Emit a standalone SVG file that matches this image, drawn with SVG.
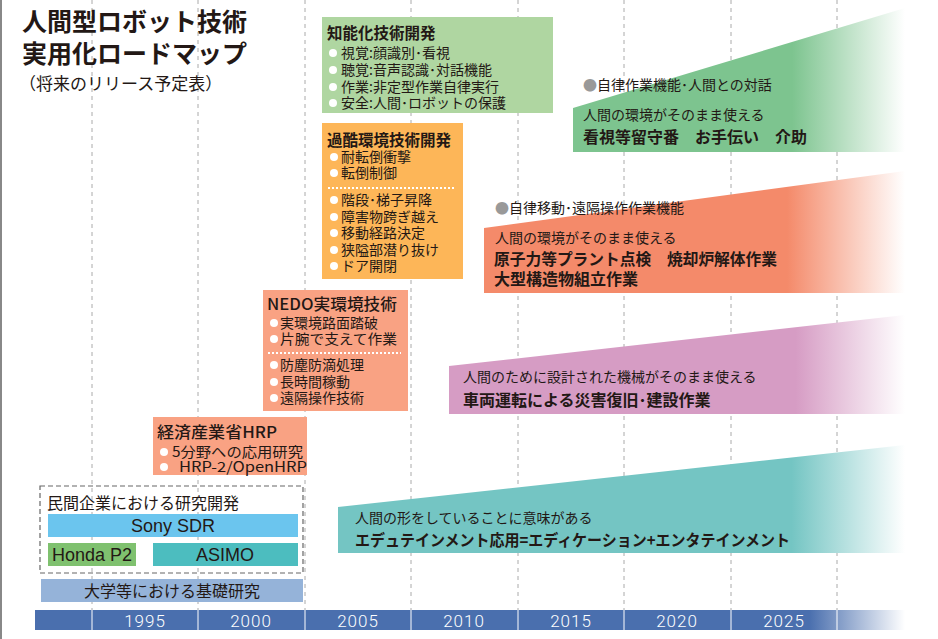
<svg xmlns="http://www.w3.org/2000/svg" width="938" height="639" viewBox="0 0 938 639">
<style>
.t{font-family:"Noto Sans CJK JP","Noto Sans",sans-serif;fill:#231815}
.ttl{font-size:25px;font-weight:bold}
.sub{font-size:17px}
.h{font-size:15.5px;font-weight:bold}
.hm{font-size:15.5px;font-weight:500}
.i{font-size:14px}
.b{font-size:16px;font-weight:bold}
.n{font-size:14px}
.s{font-size:14px}
.lab{font-family:"Liberation Sans","Noto Sans",sans-serif;font-size:18px;fill:#231815}
.yr{font-family:Roboto,"Liberation Sans",sans-serif;font-weight:300;font-size:17px;fill:#fff;letter-spacing:1px}
.grid{stroke:#aaa;stroke-width:1;stroke-dasharray:4 4}
.dot{stroke:#fff;stroke-width:2;stroke-dasharray:2 2}
.gb{fill:#999}
</style>
<defs>
<linearGradient id="gGreen" gradientUnits="userSpaceOnUse" x1="573" y1="0" x2="905" y2="0">
<stop offset="0" stop-color="#7DC48F"/><stop offset="0.66" stop-color="#7DC48F"/><stop offset="1" stop-color="#fff"/>
</linearGradient>
<linearGradient id="gOrange" gradientUnits="userSpaceOnUse" x1="484" y1="0" x2="905" y2="0">
<stop offset="0" stop-color="#F48A6A"/><stop offset="0.72" stop-color="#F48A6A"/><stop offset="1" stop-color="#fff"/>
</linearGradient>
<linearGradient id="gPink" gradientUnits="userSpaceOnUse" x1="449" y1="0" x2="905" y2="0">
<stop offset="0" stop-color="#D69CC4"/><stop offset="0.76" stop-color="#D69CC4"/><stop offset="1" stop-color="#fff"/>
</linearGradient>
<linearGradient id="gTeal" gradientUnits="userSpaceOnUse" x1="338" y1="0" x2="905" y2="0">
<stop offset="0" stop-color="#74C5C3"/><stop offset="0.8" stop-color="#74C5C3"/><stop offset="1" stop-color="#fff"/>
</linearGradient>
<linearGradient id="gBar" gradientUnits="userSpaceOnUse" x1="35" y1="0" x2="905" y2="0">
<stop offset="0" stop-color="#4A6FAE"/><stop offset="0.89" stop-color="#4A6FAE"/><stop offset="1" stop-color="#fff"/>
</linearGradient>
</defs>
<rect width="938" height="639" fill="#fff"/>
<line x1="1" y1="0" x2="1" y2="639" stroke="#888" stroke-width="2"/>
<g id="grid">
<line class="grid" x1="92" y1="0" x2="92" y2="610"/>
<line class="grid" x1="198" y1="0" x2="198" y2="610"/>
<line class="grid" x1="305" y1="0" x2="305" y2="610"/>
<line class="grid" x1="411" y1="0" x2="411" y2="610"/>
<line class="grid" x1="518" y1="0" x2="518" y2="610"/>
<line class="grid" x1="624" y1="0" x2="624" y2="610"/>
<line class="grid" x1="731" y1="0" x2="731" y2="610"/>
<line class="grid" x1="837" y1="0" x2="837" y2="610"/>
</g>
<g id="title">
<text class="t ttl" x="22" y="31">人間型ロボット技術</text>
<text class="t ttl" x="22" y="63">実用化ロードマップ</text>
<text class="t sub" x="19" y="90">（将来のリリース予定表）</text>
</g>
<g id="band-green">
<polygon points="573,108 905,8 905,152 573,152" fill="url(#gGreen)"/>
<text class="t s" x="583" y="90"><tspan class="gb">●</tspan>自律作業機能･人間との対話</text>
<text class="t n" x="583" y="120">人間の環境がそのまま使える</text>
<text class="t b" x="583" y="143">看視等留守番　お手伝い　介助</text>
</g>
<g id="band-orange">
<polygon points="484,228 905,171 905,293 484,293" fill="url(#gOrange)"/>
<text class="t s" x="495" y="213"><tspan class="gb">●</tspan>自律移動･遠隔操作作業機能</text>
<text class="t n" x="495" y="243">人間の環境がそのまま使える</text>
<text class="t b" x="494" y="265" textLength="283" lengthAdjust="spacingAndGlyphs">原子力等プラント点検　焼却炉解体作業</text>
<text class="t b" x="494" y="285">大型構造物組立作業</text>
</g>
<g id="band-pink">
<polygon points="449,366 905,315 905,414 449,414" fill="url(#gPink)"/>
<text class="t n" x="463" y="382">人間のために設計された機械がそのまま使える</text>
<text class="t b" x="463" y="406">車両運転による災害復旧･建設作業</text>
</g>
<g id="band-teal">
<polygon points="338,507 905,445 905,553 338,553" fill="url(#gTeal)"/>
<text class="t n" x="355" y="523">人間の形をしていることに意味がある</text>
<text class="t b" x="355" y="546" textLength="435" lengthAdjust="spacingAndGlyphs">エデュテインメント応用=エディケーション+エンタテインメント</text>
</g>
<g id="box-intelligence">
<rect x="322" y="17" width="231" height="96" fill="#AFD6A1"/>
<text class="t h" x="327" y="39">知能化技術開発</text>
<circle cx="333" cy="53" r="4" fill="#fff"/><text class="t i" x="341" y="58">視覚:顔識別･看視</text>
<circle cx="333" cy="70" r="4" fill="#fff"/><text class="t i" x="341" y="75">聴覚:音声認識･対話機能</text>
<circle cx="333" cy="87" r="4" fill="#fff"/><text class="t i" x="341" y="92">作業:非定型作業自律実行</text>
<circle cx="333" cy="103" r="4" fill="#fff"/><text class="t i" x="341" y="108">安全:人間･ロボットの保護</text>
</g>
<g id="box-harsh">
<rect x="322" y="123" width="141" height="156" fill="#FDB658"/>
<text class="t h" x="327" y="146">過酷環境技術開発</text>
<circle cx="334" cy="157" r="4" fill="#fff"/><text class="t i" x="341" y="162">耐転倒衝撃</text>
<circle cx="334" cy="173" r="4" fill="#fff"/><text class="t i" x="341" y="178">転倒制御</text>
<line class="dot" x1="328" y1="188" x2="456" y2="188"/>
<circle cx="334" cy="200" r="4" fill="#fff"/><text class="t i" x="341" y="205">階段･梯子昇降</text>
<circle cx="334" cy="217" r="4" fill="#fff"/><text class="t i" x="341" y="222">障害物跨ぎ越え</text>
<circle cx="334" cy="233" r="4" fill="#fff"/><text class="t i" x="341" y="238">移動経路決定</text>
<circle cx="334" cy="250" r="4" fill="#fff"/><text class="t i" x="341" y="255">狭隘部潜り抜け</text>
<circle cx="334" cy="266" r="4" fill="#fff"/><text class="t i" x="341" y="271">ドア開閉</text>
</g>
<g id="box-nedo">
<rect x="263" y="290" width="145" height="121" fill="#F9A283"/>
<text class="t hm" x="267" y="310" textLength="130" lengthAdjust="spacingAndGlyphs">NEDO実環境技術</text>
<circle cx="274" cy="323" r="4" fill="#fff"/><text class="t i" x="280" y="328">実環境路面踏破</text>
<circle cx="274" cy="339" r="4" fill="#fff"/><text class="t i" x="280" y="344" textLength="117" lengthAdjust="spacingAndGlyphs">片腕で支えて作業</text>
<line class="dot" x1="268" y1="353" x2="401" y2="353"/>
<circle cx="274" cy="365" r="4" fill="#fff"/><text class="t i" x="280" y="370">防塵防滴処理</text>
<circle cx="274" cy="382" r="4" fill="#fff"/><text class="t i" x="280" y="387">長時間稼動</text>
<circle cx="274" cy="398" r="4" fill="#fff"/><text class="t i" x="280" y="403">遠隔操作技術</text>
</g>
<g id="box-hrp">
<rect x="153" y="417" width="154" height="58" fill="#F9A283"/>
<text class="t hm" x="157" y="438" textLength="120" lengthAdjust="spacingAndGlyphs">経済産業省HRP</text>
<circle cx="164" cy="452" r="4" fill="#fff"/><text class="t i" x="172" y="457" textLength="131" lengthAdjust="spacingAndGlyphs">5分野への応用研究</text>
<circle cx="164" cy="467" r="4" fill="#fff"/><text class="t i" x="179" y="472" textLength="128" lengthAdjust="spacingAndGlyphs">HRP-2/OpenHRP</text>
</g>
<g id="box-private">
<rect x="40" y="486" width="263" height="87" fill="none" stroke="#666" stroke-width="1.2" stroke-dasharray="5 3"/>
<text class="t" x="47" y="509" style="font-size:16px">民間企業における研究開発</text>
</g>
<g id="sony"><rect x="48" y="514" width="250" height="23" fill="#6BC5EE"/><text class="lab" x="173" y="532" text-anchor="middle">Sony SDR</text></g>
<g id="honda"><rect x="48" y="543" width="88" height="23" fill="#7FC16F"/><text class="lab" x="92" y="561" text-anchor="middle">Honda P2</text></g>
<g id="asimo"><rect x="153" y="543" width="145" height="23" fill="#4CBDBF"/><text class="lab" x="225" y="561" text-anchor="middle">ASIMO</text></g>
<g id="university"><rect x="41" y="579" width="262" height="23" fill="#95B3D9"/><text class="t" x="172" y="597" text-anchor="middle" style="font-size:16px">大学等における基礎研究</text></g>
<g id="timeline">
<rect x="35" y="610" width="870" height="20" fill="url(#gBar)"/>
<g stroke="#fff" stroke-width="1">
<line x1="92" y1="610" x2="92" y2="630"/><line x1="198" y1="610" x2="198" y2="630"/>
<line x1="305" y1="610" x2="305" y2="630"/><line x1="411" y1="610" x2="411" y2="630"/>
<line x1="518" y1="610" x2="518" y2="630"/><line x1="624" y1="610" x2="624" y2="630"/>
<line x1="731" y1="610" x2="731" y2="630"/><line x1="837" y1="610" x2="837" y2="630"/>
</g>
<text class="yr" x="145" y="627" text-anchor="middle">1995</text>
<text class="yr" x="251" y="627" text-anchor="middle">2000</text>
<text class="yr" x="358" y="627" text-anchor="middle">2005</text>
<text class="yr" x="464" y="627" text-anchor="middle">2010</text>
<text class="yr" x="571" y="627" text-anchor="middle">2015</text>
<text class="yr" x="677" y="627" text-anchor="middle">2020</text>
<text class="yr" x="784" y="627" text-anchor="middle">2025</text>
</g>
</svg>
